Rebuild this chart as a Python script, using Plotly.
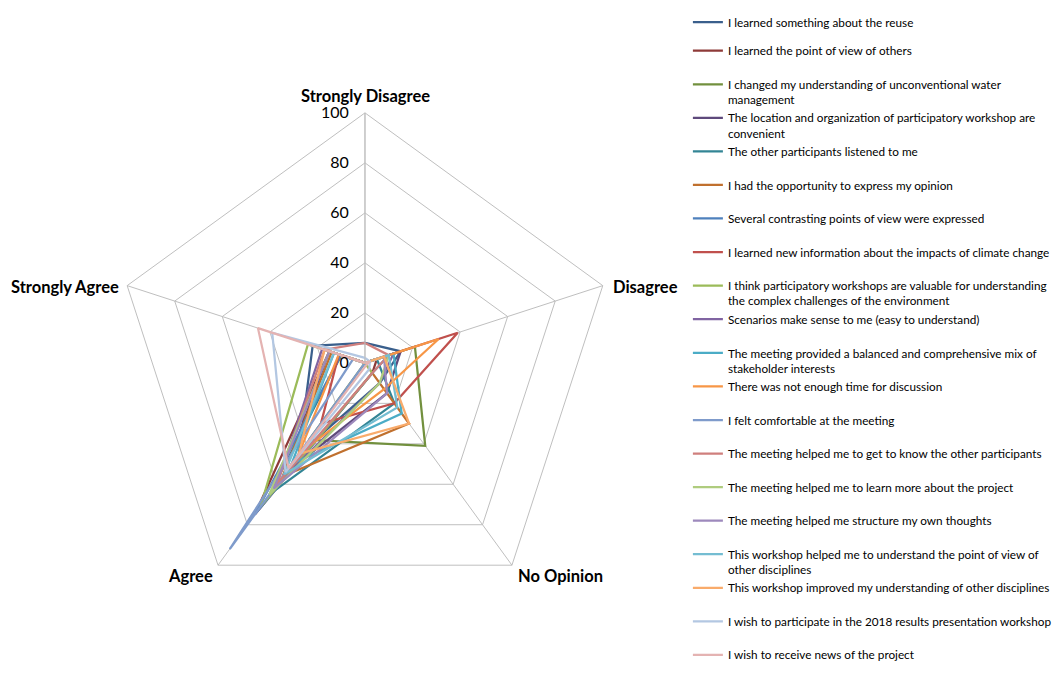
import plotly.graph_objects as go

categories = ["Strongly Disagree", "Disagree", "No Opinion", "Agree", "Strongly Agree"]

series_names = [
    "I learned something about the reuse",
    "I learned the point of view of others",
    "I changed my understanding of unconventional water<br>management",
    "The location and organization of participatory workshop are<br>convenient",
    "The other participants listened to me",
    "I had the opportunity to express my opinion",
    "Several contrasting points of view were expressed",
    "I learned new information about the impacts of climate change",
    "I think participatory workshops are valuable for understanding<br>the complex challenges of the environment",
    "Scenarios make sense to me (easy to understand)",
    "The meeting provided a balanced and comprehensive mix of<br>stakeholder interests",
    "There was not enough time for discussion",
    "I felt comfortable at the meeting",
    "The meeting helped me to get to know the other participants",
    "The meeting helped me to learn more about the project",
    "The meeting helped me structure my own thoughts",
    "This workshop helped me to understand the point of view of<br>other disciplines",
    "This workshop improved my understanding of other disciplines",
    "I wish to participate in the 2018 results presentation workshop",
    "I wish to receive news of the project",
]

# values per series: [Strongly Disagree, Disagree, No Opinion, Agree, Strongly Agree]
s01 = [8, 15, 10, 45, 22]
s02 = [0, 5, 5, 75, 15]
s03 = [0, 21, 41, 38, 0]
s04 = [0, 15, 15, 55, 15]
s05 = [0, 5, 20, 65, 10]
s06 = [0, 0, 30, 56, 14]
s07 = [0, 10, 5, 75, 10]
s08 = [0, 39, 20, 30, 11]
s09 = [0, 0, 5, 71, 24]
s10 = [0, 12, 10, 60, 18]
s11 = [0, 12, 25, 50, 13]
s12 = [0, 31, 13, 45, 11]
s13 = [0, 3, 0, 92, 5]
s14 = [8, 10, 5, 60, 17]
s15 = [0, 10, 10, 65, 15]
s16 = [0, 8, 15, 62, 15]
s17 = [0, 10, 22, 55, 13]
s18 = [0, 8, 30, 45, 17]
s19 = [2, 2, 3, 54, 39]
s20 = [0, 2, 1, 52, 45]

series_values = [s01, s02, s03, s04, s05, s06, s07, s08, s09, s10,
                 s11, s12, s13, s14, s15, s16, s17, s18, s19, s20]

colors = [
    "#3A5F8C", "#8E3A38", "#72903E", "#5E4A7C", "#338595", "#C0702E",
    "#4F81BD", "#C0504D", "#9BBB59", "#8064A2", "#4BACC6", "#F79646",
    "#7F9BCB", "#CF7F7D", "#AFCC7E", "#9D89BC", "#74BDD2", "#F9AB6B",
    "#B3C7E2", "#E4B3B2",
]

W, H = 1064, 689

# label placement (pixels) for the category names
label_pos = [
    (357, 88, "center"),
    (603, 279, "left"),
    (508, 568, "left"),
    (207, 568, "right"),
    (113, 279, "right"),
]

# legend blocks: (first series index, legend id); legend item pitch in px
legend_blocks = [(0, "legend"), (1, "legend2"), (10, "legend3")]
ITEM0_Y = 17.0
PITCH = 33.58
FIRST_OFFSET = 22.0

def legend_for(i):
    lid = "legend"
    for start, name in legend_blocks:
        if i >= start:
            lid = name
    return lid

fig = go.Figure()
for i, (name, vals, col) in enumerate(zip(series_names, series_values, colors)):
    if i == 0 or "<br>" in name:
        label = name
    else:
        label = name + "<br> "
    fig.add_trace(go.Scatterpolar(
        r=vals + [vals[0]],
        theta=categories + [categories[0]],
        mode="lines",
        line=dict(color=col, width=2.25),
        name=label,
        legend=legend_for(i),
        showlegend=True,
    ))

for cat, (px, py, anc) in zip(categories, label_pos):
    fig.add_annotation(
        x=px / W, y=1 - py / H, xref="paper", yref="paper",
        text=cat, showarrow=False, xanchor=anc, yanchor="middle",
        font=dict(family="Lato", size=16.5, color="#000000", weight="bold"),
    )

legend_common = dict(
    x=0.639, xanchor="left", yanchor="top",
    valign="top", itemwidth=30, bgcolor="rgba(0,0,0,0)",
    font=dict(family="Lato", size=11.75, color="#000000"),
    tracegroupgap=0,
)
legend_layout = {}
for start, lid in legend_blocks:
    top_px = ITEM0_Y + start * PITCH - FIRST_OFFSET
    yv = min(1.0, 1 - top_px / H)
    legend_layout[lid] = dict(legend_common, y=yv)

fig.update_layout(
    width=W, height=H,
    showlegend=True,
    margin=dict(l=0, r=0, t=0, b=0, autoexpand=False),
    paper_bgcolor="white",
    plot_bgcolor="white",
    font=dict(family="Lato", color="#000000"),
    polar=dict(
        domain=dict(x=[0.1005, 0.5705], y=[0.1219, 0.8479]),
        bgcolor="white",
        gridshape="linear",
        radialaxis=dict(
            range=[0, 100], dtick=20, angle=90, tickangle=90,
            side="counterclockwise",
            showline=True, linecolor="#BFBFBF", linewidth=1,
            gridcolor="#BFBFBF", gridwidth=1,
            ticks="outside", ticklen=10, tickcolor="rgba(0,0,0,0)",
            tickfont=dict(family="Lato", size=16, color="#000000"),
        ),
        angularaxis=dict(
            direction="clockwise", rotation=90,
            showline=True, linecolor="#BFBFBF", linewidth=1,
            gridcolor="#BFBFBF", gridwidth=1,
            ticks="", showticklabels=False,
        ),
    ),
    **legend_layout,
)

fig.write_html("out.html")
